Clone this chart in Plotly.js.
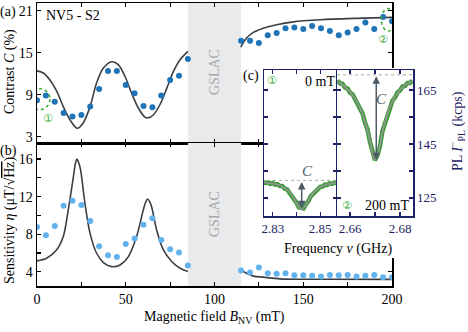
<!DOCTYPE html>
<html>
<head>
<meta charset="utf-8">
<script src="https://cdn.plot.ly/plotly-3.0.1.min.js"></script>
<style>html,body{margin:0;padding:0;background:#fff}#chart{width:468px;height:332px}</style>
</head>
<body>
<div id="chart"></div>
<script>
// (a) contrast vs field, measured points
var fieldLow = [0, 5, 10, 15, 20, 25, 30, 35, 40, 45, 50, 55, 60, 65, 70, 75, 80, 85];
var contrastLow = [8.2, 8.9, 8.0, 6.4, 5.9, 6.1, 7.3, 9.8, 12.4, 12.4, 10.4, 9.2, 7.4, 7.2, 8.9, 11.1, 11.7, 14.1];
var fieldHigh = [115, 120, 125, 130, 135, 140, 145, 150, 155, 160, 165, 170, 175, 180, 185, 190, 195, 200];
var contrastHigh = [16.7, 16.7, 16.4, 17.5, 17.8, 18.5, 18.6, 18.4, 18.8, 18.5, 18.1, 17.5, 17.9, 18.4, 19.3, 18.4, 20.1, 19.5];

// (a) model curve
var modelFieldA = [0, 3.6, 7.3, 11.1, 14.8, 18.6, 22.7, 26.1, 29.9, 33.6, 37.4, 42.1, 45.8, 49.6, 53.3, 57.1, 60.8, 62.7, 65.5, 69.3, 73.1, 76.8, 80.6, 85];
var modelContrast = [12.4, 12.1, 11.1, 9.5, 7.3, 5.4, 4.2, 5.0, 7.3, 10.7, 12.8, 13.7, 13.3, 11.6, 9.2, 7.1, 5.8, 5.7, 6.1, 7.6, 9.9, 12.3, 14.0, 15.2];
var modelFieldA2 = [114.8, 118.1, 121.9, 127.5, 135, 144.4, 159.4, 178.2, 200];
var modelContrast2 = [15.8, 17.1, 17.9, 18.5, 19.0, 19.4, 19.7, 19.9, 20.05];

// (b) sensitivity vs field, measured points
var etaLow = [8.78, 7.9, 8.88, 11.04, 11.57, 11.1, 9.41, 6.72, 5.77, 5.59, 6.97, 7.54, 9.02, 9.7, 7.4, 6.41, 6.05, 4.67];
var etaHigh = [4.14, 3.93, 4.46, 3.86, 3.79, 3.86, 3.65, 3.65, 3.58, 3.5, 3.68, 3.65, 3.68, 3.5, 3.58, 3.68, 3.44, 3.44];

// (b) model curve
var modelFieldB = [0, 5.4, 11.1, 14.8, 17.6, 20.5, 21.6, 22.5, 23.5, 24.6, 27, 29.9, 33.6, 37.4, 42.1, 46.8, 51.5, 56.1, 59.9, 61.2, 62.3, 63.4, 64.6, 67.4, 71.2, 75.9, 80.6, 85];
var modelEta = [5.17, 5.45, 6.34, 7.75, 10.6, 14.1, 15.5, 16.0, 15.6, 14.8, 11.3, 8.1, 5.98, 4.99, 4.56, 4.74, 5.62, 7.75, 10.6, 11.4, 11.75, 11.5, 10.9, 8.46, 6.34, 5.1, 4.39, 4.03];
var modelFieldB2 = [115, 118, 122, 127.5, 136.9, 150, 165, 200];
var modelEta2 = [4.21, 3.85, 3.55, 3.44, 3.26, 3.22, 3.21, 3.2];

// (c) ODMR spectra, 0 mT
var freq0 = [2.826, 2.827, 2.828, 2.829, 2.830, 2.831, 2.832, 2.833, 2.834, 2.835, 2.836, 2.837, 2.838, 2.839, 2.840, 2.841, 2.842, 2.843, 2.844, 2.845, 2.846, 2.847, 2.848, 2.849, 2.850, 2.851, 2.852, 2.853, 2.854, 2.855, 2.856, 2.857];
var pl0Data = [130.9, 130.5, 130.8, 130.2, 130.5, 129.9, 130.1, 129.4, 129.4, 128.5, 128.2, 127.0, 126.2, 124.4, 123.2, 121.5, 121.2, 121.1, 122.6, 123.7, 125.6, 126.5, 127.8, 128.2, 129.1, 129.2, 129.9, 129.8, 130.4, 130.2, 130.7, 130.5];
var pl0Fit = [130.8, 130.7, 130.6, 130.4, 130.3, 130.1, 129.9, 129.6, 129.2, 128.7, 128.0, 127.2, 126.0, 124.6, 123.0, 121.7, 121.0, 121.3, 122.4, 123.9, 125.4, 126.7, 127.6, 128.4, 128.9, 129.4, 129.7, 130.0, 130.2, 130.4, 130.5, 130.6];
// (c) ODMR spectra, 200 mT
var freq200 = [2.655, 2.656, 2.657, 2.658, 2.659, 2.660, 2.661, 2.662, 2.663, 2.664, 2.665, 2.666, 2.667, 2.668, 2.669, 2.670, 2.671, 2.672, 2.673, 2.674, 2.675, 2.676, 2.677, 2.678, 2.679, 2.680, 2.681, 2.682, 2.683, 2.684, 2.685];
var pl200Data = [168.6, 167.4, 167.3, 165.9, 165.6, 164.0, 163.4, 161.5, 160.3, 157.9, 156.3, 152.9, 150.3, 145.7, 142.1, 139.0, 140.8, 144.2, 149.8, 152.7, 156.5, 158.5, 161.1, 162.2, 164.1, 164.8, 166.3, 166.5, 167.6, 167.6, 168.5];
var pl200Fit = [168.2, 167.6, 167.0, 166.2, 165.3, 164.3, 163.1, 161.8, 160.0, 158.2, 156.0, 153.2, 150.0, 146.0, 141.8, 139.2, 140.5, 144.5, 149.5, 153.0, 156.2, 158.8, 160.8, 162.5, 163.8, 165.0, 166.0, 166.7, 167.3, 167.8, 168.2];
var baseline0 = 131.5, baseline200 = 170.6;

var X = function (p) { return p / 468; };
var Y = function (p) { return 1 - p / 332; };
var serif = '"Liberation Serif", "Times New Roman", serif';
var navy = '#1d2265';
var curveCol = '#3b3f44';

function frame(o, col) {
  var a = {
    showline: true, linecolor: col || '#000', linewidth: 1.5, mirror: 'ticks',
    ticks: 'inside', ticklen: 4, tickwidth: 1.2, tickcolor: col || '#000',
    showgrid: false, zeroline: false,
    tickfont: {family: serif, size: 14, color: col || '#000'}
  };
  for (var k in o) a[k] = o[k];
  return a;
}

var traces = [
  {x: modelFieldA, y: modelContrast, xaxis: 'x', yaxis: 'y', mode: 'lines', line: {color: curveCol, width: 1.6, shape: 'spline', smoothing: 0.9}},
  {x: modelFieldA2, y: modelContrast2, xaxis: 'x', yaxis: 'y', mode: 'lines', line: {color: curveCol, width: 1.6, shape: 'spline', smoothing: 0.9}},
  {x: fieldLow, y: contrastLow, xaxis: 'x', yaxis: 'y', mode: 'markers', marker: {color: '#1f73b7', size: 6}},
  {x: fieldHigh, y: contrastHigh, xaxis: 'x', yaxis: 'y', mode: 'markers', marker: {color: '#1f73b7', size: 6}},
  {x: modelFieldB, y: modelEta, xaxis: 'x2', yaxis: 'y2', mode: 'lines', line: {color: curveCol, width: 1.6, shape: 'spline', smoothing: 0.9}},
  {x: modelFieldB2, y: modelEta2, xaxis: 'x2', yaxis: 'y2', mode: 'lines', line: {color: curveCol, width: 1.6, shape: 'spline', smoothing: 0.9}},
  {x: fieldLow, y: etaLow, xaxis: 'x2', yaxis: 'y2', mode: 'markers', marker: {color: '#62b2ee', size: 6}},
  {x: fieldHigh, y: etaHigh, xaxis: 'x2', yaxis: 'y2', mode: 'markers', marker: {color: '#62b2ee', size: 6}},
  // white box behind the inset
  {x: [], y: [], xaxis: 'x3', yaxis: 'y3', mode: 'markers'},
  {x: freq0, y: pl0Data, xaxis: 'x4', yaxis: 'y4', mode: 'lines', line: {color: '#3b9e34', width: 4.5}},
  {x: freq0, y: pl0Fit, xaxis: 'x4', yaxis: 'y4', mode: 'lines', line: {color: '#939595', width: 1.8, shape: 'spline'}},
  {x: freq200, y: pl200Data, xaxis: 'x5', yaxis: 'y5', mode: 'lines', line: {color: '#3b9e34', width: 4.5}},
  {x: freq200, y: pl200Fit, xaxis: 'x5', yaxis: 'y5', mode: 'lines', line: {color: '#939595', width: 1.8, shape: 'spline'}}
];

var fieldTicks = [0, 25, 50, 75, 100, 125, 150, 175, 200];
var inRange = [118.3, 172.4];

function txt(t, x, y, o) {
  var a = {text: t, x: X(x), y: Y(y), xref: 'paper', yref: 'paper', showarrow: false,
    xanchor: 'center', yanchor: 'middle',
    font: {family: serif, size: 14, color: '#000'}};
  for (var k in o) a[k] = o[k];
  return a;
}
function arrow(xr, yr, xv, y0, y1) {
  return {text: '', x: xv, y: y1, ax: xv, ay: y0, xref: xr, yref: yr, axref: xr, ayref: yr,
    showarrow: true, arrowside: 'end+start', arrowhead: 2, arrowsize: 1, arrowwidth: 1.5,
    arrowcolor: '#4d5b66', standoff: 0, startstandoff: 0};
}

var green = '#3aaa35';
var symFont = {family: 'DejaVu Sans', size: 11, color: green};
var layout = {
  width: 468, height: 332,
  margin: {l: 0, r: 0, t: 0, b: 0},
  paper_bgcolor: '#fff', plot_bgcolor: '#fff',
  showlegend: false,
  font: {family: serif},
  xaxis: frame({domain: [X(37), X(392)], range: [0, 200], anchor: 'y', tickvals: fieldTicks, showticklabels: false}),
  yaxis: frame({domain: [Y(143), Y(3)], range: [2.1, 22.1], anchor: 'x', tickvals: [3, 9, 15, 21]}),
  xaxis2: frame({domain: [X(37), X(392)], range: [0, 200], anchor: 'y2', tickvals: fieldTicks,
    ticktext: ['0', '', '50', '', '100', '', '150', '', '200']}),
  yaxis2: frame({domain: [Y(286), Y(143)], range: [2.5, 17.7], anchor: 'x2', tickvals: [4, 6, 8, 10, 12, 14, 16],
    ticktext: ['4', '', '8', '', '12', '', '16']}),
  xaxis3: {domain: [X(263), 1], range: [0, 1], anchor: 'y3', visible: false},
  yaxis3: {domain: [Y(258), Y(68)], range: [0, 1], anchor: 'x3', visible: false},
  xaxis4: frame({domain: [X(264), X(337)], range: [2.8263, 2.8571], anchor: 'y4', tickvals: [2.83, 2.84, 2.85],
    ticktext: ['2.83', '', '2.85'], tickfont: {family: serif, size: 13, color: navy}}, navy),
  yaxis4: frame({domain: [Y(216), Y(70)], range: inRange, anchor: 'x4', tickvals: [125, 135, 145, 155, 165],
    showticklabels: false}, navy),
  xaxis5: frame({domain: [X(337), X(413)], range: [2.6548, 2.6852], anchor: 'y5', tickvals: [2.66, 2.67, 2.68],
    ticktext: ['2.66', '', '2.68'], tickfont: {family: serif, size: 13, color: navy}}, navy),
  yaxis5: frame({domain: [Y(216), Y(70)], range: inRange, anchor: 'x5', side: 'right', tickvals: [125, 135, 145, 155, 165],
    ticktext: ['125', '', '145', '', '165'], tickfont: {family: serif, size: 13, color: navy}}, navy),
  shapes: [
    {type: 'rect', xref: 'x', yref: 'y', x0: 85, x1: 115, y0: 2.1, y1: 22.1, fillcolor: '#e9eaec', line: {width: 0}, layer: 'below'},
    {type: 'rect', xref: 'x2', yref: 'y2', x0: 85, x1: 115, y0: 2.5, y1: 17.7, fillcolor: '#e9eaec', line: {width: 0}, layer: 'below'},
    {type: 'circle', xref: 'x', yref: 'y', x0: -4.3, x1: 7.3, y0: 6.86, y1: 9.86, line: {color: green, width: 1.6, dash: 'dot'}},
    {type: 'circle', xref: 'x', yref: 'y', x0: 194, x1: 202, y0: 18.1, y1: 21.3, line: {color: green, width: 1.6, dash: 'dot'}},
    {type: 'line', xref: 'x4', yref: 'y4', x0: 2.82, x1: 2.86, y0: baseline0, y1: baseline0, line: {color: '#aaaaaa', width: 1, dash: 'dot'}},
    {type: 'line', xref: 'x5', yref: 'y5', x0: 2.65, x1: 2.69, y0: baseline200, y1: baseline200, line: {color: '#aaaaaa', width: 1, dash: 'dot'}}
  ],
  annotations: [
    txt('(a)', 8, 12),
    txt('(b)', 8, 151),
    txt('NV5 - S2', 73, 15),
    txt('GSLAC', 214, 72, {textangle: -90, font: {family: serif, size: 14, color: '#a8a8a8'}}),
    txt('GSLAC', 214, 214, {textangle: -90, font: {family: serif, size: 14, color: '#a8a8a8'}}),
    txt('Contrast <i>C</i> (%)', 10, 72, {textangle: -90}),
    txt('Sensitivity <i>η</i> (μT/√<span style="text-decoration:overline">Hz</span>)', 10, 221, {textangle: -90}),
    txt('Magnetic field <i>B</i><sub>NV</sub> (mT)', 214, 317),
    txt('①', 48, 118, {font: symFont}),
    txt('②', 383, 39, {font: symFont}),
    txt('(c)', 251, 76),
    txt('①', 272, 80, {font: symFont}),
    txt('0 mT', 320, 81),
    txt('②', 347, 205, {font: symFont}),
    txt('200 mT', 387, 205),
    txt('<i>C</i>', 307, 171, {font: {family: serif, size: 15, color: '#4d5b66'}}),
    txt('<i>C</i>', 381, 99, {font: {family: serif, size: 15, color: '#4d5b66'}}),
    txt('Frequency <i>ν</i> (GHz)', 338, 249),
    txt('PL <i>I</i><sup>−</sup><sub>PL</sub> (kcps)', 457, 131, {textangle: -90, font: {family: serif, size: 14, color: navy}}),
    arrow('x4', 'y4', 2.8422, baseline0, 121.2),
    arrow('x5', 'y5', 2.6705, baseline200, 139.0)
  ]
};

Plotly.newPlot('chart', traces, layout, {staticPlot: true});
</script>
</body>
</html>
